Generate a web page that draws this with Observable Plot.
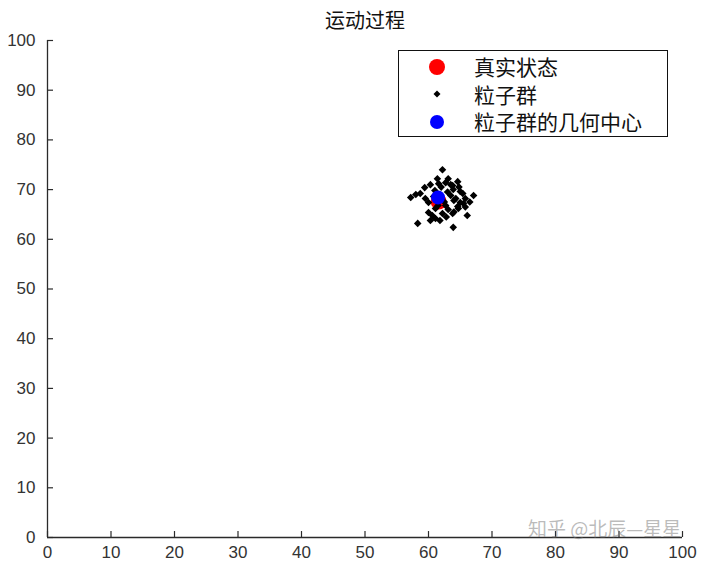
<!DOCTYPE html>
<html>
<head>
<meta charset="utf-8">
<script src="https://cdn.jsdelivr.net/npm/d3@7"></script>
<script src="https://cdn.jsdelivr.net/npm/@observablehq/plot@0.6"></script>
<style>
  body { margin: 0; background: #fff; }
  #wrap { position: relative; width: 720px; height: 569px; font-family: "Noto Sans CJK SC", "Noto Sans", sans-serif; }
  #legend { position: absolute; left: 398px; top: 50px; width: 268px; height: 85px; border: 1px solid #111; background: #fff; }
  .row { position: absolute; left: 0; height: 27px; display: flex; align-items: center; }
  .row svg { margin-left: 28px; }
  .row span { position: absolute; left: 75px; font-size: 21px; color: #111; white-space: nowrap; line-height: 1; }
  #wm { position: absolute; left: 528px; top: 517px; font-size: 19px; color: rgba(120,120,120,0.5); white-space: nowrap; line-height: 1.2; }
</style>
</head>
<body>
<div id="wrap"></div>
<script>
const title = "运动过程";
const legendLabels = ["真实状态", "粒子群", "粒子群的几何中心"];
const xTicks = [0, 10, 20, 30, 40, 50, 60, 70, 80, 90, 100];
const yTicks = [0, 10, 20, 30, 40, 50, 60, 70, 80, 90, 100];

const particleX = [62.2, 61.4, 63.1, 64.6, 59.4, 60.3, 58.7, 58.0, 57.2, 63.9, 65.0, 65.8, 67.1, 65.5, 64.7, 63.8, 66.1, 63.9, 58.3, 60.3, 61.1, 60.0, 61.1, 62.7, 59.5, 63.5, 64.3, 65.0, 62.7, 61.6, 60.0, 64.6, 63.1, 62.2, 60.6, 65.4, 63.8, 63.0, 61.0, 62.5, 64.0, 61.5, 63.5, 64.8, 60.8, 62.0, 65.8, 66.5, 64.0, 62.8, 61.8];
const particleY = [74.0, 72.2, 72.2, 71.6, 70.4, 71.0, 69.2, 69.0, 68.4, 70.0, 69.6, 68.2, 68.8, 67.2, 66.2, 65.2, 64.8, 62.4, 63.2, 63.8, 64.2, 65.4, 66.2, 66.8, 68.2, 68.8, 68.2, 67.4, 71.4, 71.2, 67.4, 66.6, 66.0, 65.2, 64.8, 69.2, 70.8, 69.5, 69.8, 67.5, 67.8, 66.8, 71.0, 70.5, 68.6, 70.5, 66.5, 67.5, 65.5, 64.5, 63.8];
const trueX = [61.6];
const trueY = [67.6];
const centerX = [61.5];
const centerY = [68.4];

const particles = particleX.map((x, i) => ({x, y: particleY[i]}));
const truth = trueX.map((x, i) => ({x, y: trueY[i]}));
const center = centerX.map((x, i) => ({x, y: centerY[i]}));

const axisColor = "#2a2a2a";
const labelFont = "'Liberation Sans', Arial, sans-serif";
const chart = Plot.plot({
  width: 720,
  height: 569,
  marginLeft: 47,
  marginRight: 38,
  marginTop: 40,
  marginBottom: 32,
  style: {fontFamily: labelFont, fontSize: "17px", color: "#333", background: "#fff"},
  x: {domain: [0, 100], ticks: xTicks, label: null},
  y: {domain: [0, 100], ticks: yTicks, label: null},
  marks: [
    Plot.axisX(xTicks, {tickSize: 0, tickPadding: 8, fill: "#333", fontSize: 17, label: null}),
    Plot.axisY(yTicks, {tickSize: 0, tickPadding: 12, fill: "#333", fontSize: 17, label: null}),
    Plot.ruleX(xTicks, {y1: 0, y2: 1.2, stroke: axisColor, strokeWidth: 1.2}),
    Plot.ruleY(yTicks, {x1: 0, x2: 0.95, stroke: axisColor, strokeWidth: 1.2}),
    Plot.ruleX([0], {stroke: axisColor, strokeWidth: 1.3}),
    Plot.ruleY([0], {stroke: axisColor, strokeWidth: 1.3}),
    Plot.dot(truth, {x: "x", y: "y", r: 8, fill: "#ff0000", stroke: "none"}),
    Plot.dot(particles, {x: "x", y: "y", symbol: "diamond2", r: 3.4, fill: "#000", stroke: "none"}),
    Plot.dot(center, {x: "x", y: "y", r: 7, fill: "#0000ff", stroke: "none"}),
    Plot.text([title], {frameAnchor: "top", dy: -27, fontSize: 20, fill: "#111", fontFamily: "'Noto Sans CJK SC', sans-serif"})
  ]
});

const wrap = document.getElementById("wrap");
wrap.appendChild(chart);

const legend = document.createElement("div");
legend.id = "legend";
const markers = [
  '<svg width="20" height="20"><circle cx="10" cy="10" r="8" fill="#ff0000"/></svg>',
  '<svg width="20" height="20"><path d="M10,6.5L13.5,10L10,13.5L6.5,10Z" fill="#000"/></svg>',
  '<svg width="20" height="20"><circle cx="10" cy="10" r="7" fill="#0000ff"/></svg>'
];
legendLabels.forEach((lab, i) => {
  const row = document.createElement("div");
  row.className = "row";
  row.style.top = (2 + i * 27.5) + "px";
  row.innerHTML = markers[i] + "<span>" + lab + "</span>";
  legend.appendChild(row);
});
wrap.appendChild(legend);

const wm = document.createElement("div");
wm.id = "wm";
wm.textContent = "知乎 @北辰—星星";
wrap.appendChild(wm);
</script>
</body>
</html>
